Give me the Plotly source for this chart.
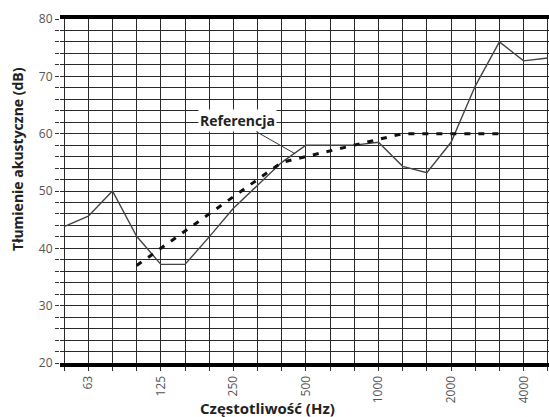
import plotly.graph_objects as go

bands = ["50", "63", "80", "100", "125", "160", "200", "250", "315", "400", "500",
         "630", "800", "1000", "1250", "1600", "2000", "2500", "3150", "4000", "5000"]
measured = [43.8, 45.6, 50.0, 42.1, 37.2, 37.2, 42.0, 47.0, 51.0, 55.0, 58.0,
            58.0, 58.0, 58.5, 54.3, 53.2, 58.5, 68.3, 76.0, 72.7, 73.2]
ref_bands = ["100", "125", "160", "200", "250", "315", "400", "500", "630", "800",
             "1000", "1250", "1600", "2000", "2500", "3150"]
reference = [37, 40, 43, 46, 49, 52, 55, 56, 57, 58, 59, 60, 60, 60, 60, 60]
labeled = ["63", "125", "250", "500", "1000", "2000", "4000"]
y_labels = [20, 30, 40, 50, 60, 70, 80]

idx = {b: i for i, b in enumerate(bands)}
font_family = "'Open Sans', Lato, sans-serif"

fig = go.Figure()
fig.add_trace(go.Scatter(
    x=[idx[b] for b in bands], y=measured, mode="lines",
    line=dict(color="#444444", width=1.4), showlegend=False))
fig.add_trace(go.Scatter(
    x=[idx[b] for b in ref_bands], y=reference, mode="lines",
    line=dict(color="#111111", width=3, dash="6px,8px"), showlegend=False))

fig.add_annotation(
    x=9.55, y=56.5, xref="x", yref="y",
    ax=-58, ay=-33, axref="pixel", ayref="pixel",
    text="<b>Referencja</b>", showarrow=True, arrowhead=0, arrowwidth=1,
    arrowcolor="#333333", bgcolor="white", borderpad=1, standoff=0,
    font=dict(family=font_family, size=14, color="#222222"))

# axis titles placed as annotations
fig.add_annotation(
    x=0.425, y=-0.131, xref="paper", yref="paper", showarrow=False,
    xanchor="center", yanchor="middle",
    text="<b>Częstotliwość (Hz)</b>",
    font=dict(family=font_family, size=15, color="#222222"))
fig.add_annotation(
    x=-0.088, y=0.593, xref="paper", yref="paper", showarrow=False,
    xanchor="center", yanchor="middle", textangle=-90,
    text="<b>Tłumienie akustyczne (dB)</b>",
    font=dict(family=font_family, size=14, color="#222222"))

yt = list(range(20, 81, 2))
fig.update_layout(
    width=549, height=417,
    margin=dict(l=60, r=0, t=19, b=54),
    paper_bgcolor="white", plot_bgcolor="white",
    font=dict(family=font_family, size=11, color="#333333"),
    xaxis=dict(
        range=[-0.17, 20.05],
        automargin=False,
        tickvals=list(range(len(bands))),
        ticktext=[b if b in labeled else "" for b in bands],
        tickangle=-90,
        showgrid=True, gridcolor="#2a2a2a", gridwidth=1.3,
        ticks="outside", ticklen=4, tickcolor="#333333",
        showline=True, linecolor="black", linewidth=4, mirror=True,
        zeroline=False,
        tickfont=dict(size=12, color="#555555"),
    ),
    yaxis=dict(
        range=[20, 80],
        automargin=False,
        tickvals=yt,
        ticktext=[str(v) if v in y_labels else "" for v in yt],
        showgrid=True, gridcolor="#2a2a2a", gridwidth=1.3,
        ticks="outside", ticklen=4, tickcolor="#333333",
        showline=False, zeroline=False,
        tickfont=dict(size=12, color="#555555"),
    ),
)

fig.write_html("out.html", config={"displayModeBar": False},
               post_script="document.body.style.margin='0px';document.body.style.overflow='hidden';")
